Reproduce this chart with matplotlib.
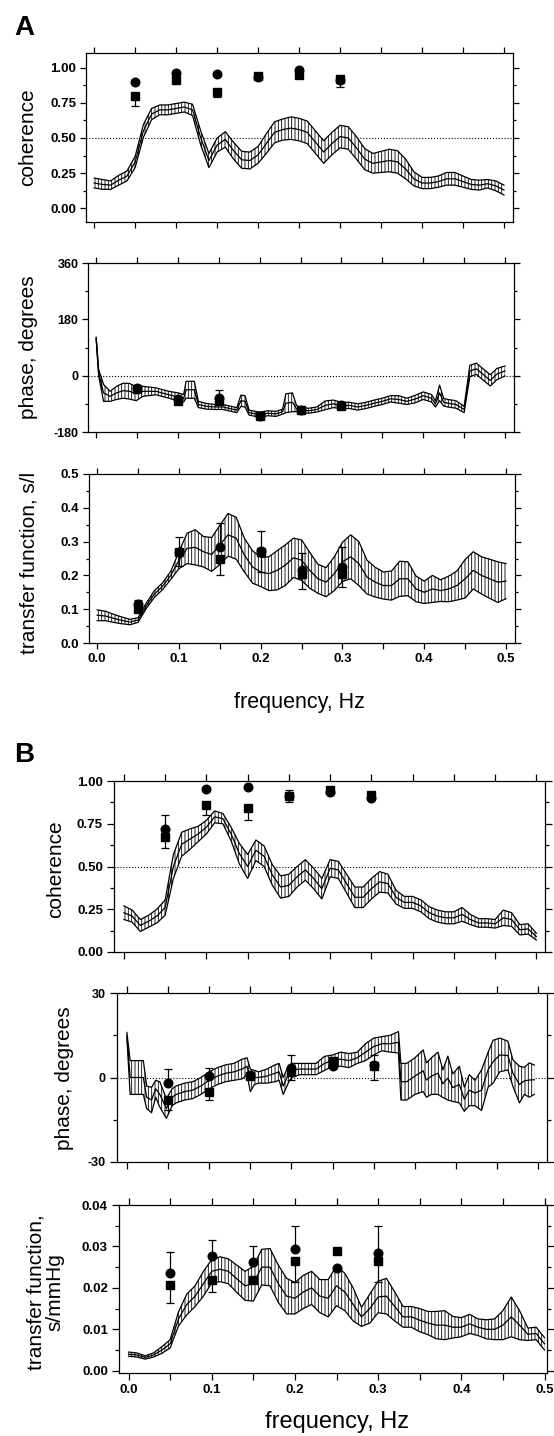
import numpy as np
import matplotlib
matplotlib.use("Agg")
import matplotlib.pyplot as plt
from matplotlib.ticker import MultipleLocator, FormatStrFormatter

plt.rcParams['font.family'] = ['Liberation Sans', 'DejaVu Sans']
plt.rcParams['font.weight'] = 'bold'
plt.rcParams['hatch.linewidth'] = 0.6

W, H = 554, 1436

# frequency grid of the smooth spectra (Hz)
freq = np.arange(51) / 100.0
# frequencies of the sinusoidal-forcing points
mark_f = [0.05, 0.10, 0.15, 0.20, 0.25, 0.30]

# ---- A: coherence ----
coh_a = [0.18, 0.17, 0.165, 0.20, 0.23, 0.33, 0.55, 0.67, 0.70, 0.70,
         0.71, 0.72, 0.70, 0.50, 0.34, 0.45, 0.49, 0.41, 0.345, 0.34,
         0.38, 0.46, 0.54, 0.56, 0.57, 0.56, 0.54, 0.47, 0.40, 0.46,
         0.51, 0.50, 0.43, 0.35, 0.32, 0.33, 0.34, 0.33, 0.28, 0.21,
         0.18, 0.18, 0.19, 0.21, 0.21, 0.19, 0.17, 0.165, 0.175, 0.16, 0.13]
coh_a_se = [0.035, 0.035, 0.03, 0.035, 0.035, 0.04, 0.045, 0.04, 0.035, 0.035,
            0.035, 0.035, 0.04, 0.05, 0.05, 0.05, 0.055, 0.06, 0.06, 0.06,
            0.06, 0.07, 0.075, 0.075, 0.08, 0.08, 0.08, 0.08, 0.08, 0.08,
            0.08, 0.08, 0.08, 0.075, 0.07, 0.075, 0.08, 0.08, 0.07, 0.05,
            0.04, 0.04, 0.04, 0.045, 0.045, 0.04, 0.035, 0.035, 0.03, 0.035, 0.035]
coh_a_circ = [0.90, 0.965, 0.953, 0.93, 0.98, 0.91]
coh_a_circ_up = [0, 0, 0, 0, 0, 0]
coh_a_sq = [0.80, 0.915, 0.83, 0.94, 0.95, 0.92]
coh_a_sq_dn = [0.07, 0, 0.04, 0, 0, 0.06]

# ---- A: phase ----
ph_a_f = [0.000, 0.003, 0.009, 0.017, 0.025, 0.033, 0.041, 0.049, 0.057, 0.073,
          0.089, 0.100, 0.107, 0.110, 0.120, 0.125, 0.135, 0.145, 0.155, 0.165,
          0.172, 0.177, 0.182, 0.187, 0.200, 0.210, 0.220, 0.228, 0.232, 0.240,
          0.245, 0.250, 0.260, 0.270, 0.280, 0.290, 0.300, 0.310, 0.320, 0.330,
          0.340, 0.350, 0.360, 0.370, 0.380, 0.390, 0.400, 0.410, 0.415, 0.420,
          0.425, 0.430, 0.440, 0.450, 0.457, 0.465, 0.475, 0.482, 0.490, 0.500]
ph_a = [120, 10, -55, -66, -55, -48, -50, -58, -50, -50,
        -61, -68, -72, -45, -45, -92, -98, -100, -100, -106,
        -110, -80, -82, -118, -125, -120, -122, -115, -88, -85,
        -105, -110, -112, -108, -95, -90, -95, -95, -100, -95,
        -88, -82, -74, -76, -82, -75, -64, -72, -90, -55,
        -85, -88, -92, -108, 15, 22, 0, -15, 5, 15]
ph_a_se = [3, 10, 27, 16, 21, 24, 25, 22, 16, 11,
           11, 13, 12, 27, 27, 10, 9, 8, 8, 8,
           8, 18, 18, 8, 8, 8, 8, 8, 30, 30,
           10, 8, 8, 8, 14, 12, 10, 10, 10, 10,
           10, 10, 10, 12, 10, 12, 12, 12, 10, 25,
           12, 12, 12, 10, 18, 18, 18, 18, 18, 16]
ph_a_circ = [-38, -75, -72, -128, -110, -95]
ph_a_circ_up = [0, 0, 25, 0, 0, 0]
ph_a_sq = [-42, -80, -82, -130, -110, -97]
ph_a_sq_dn = [0, 0, 0, 0, 0, 0]

# ---- A: transfer function (s/l) ----
tf_a = [0.082, 0.080, 0.073, 0.067, 0.062, 0.068, 0.110, 0.145, 0.168, 0.200,
        0.245, 0.280, 0.283, 0.270, 0.262, 0.290, 0.320, 0.310, 0.260, 0.225,
        0.210, 0.205, 0.215, 0.230, 0.252, 0.245, 0.215, 0.190, 0.180, 0.205,
        0.240, 0.255, 0.235, 0.195, 0.180, 0.170, 0.170, 0.190, 0.190, 0.160,
        0.150, 0.160, 0.155, 0.160, 0.170, 0.190, 0.215, 0.200, 0.190, 0.180, 0.183]
tf_a_se = [0.016, 0.014, 0.012, 0.010, 0.008, 0.007, 0.008, 0.010, 0.010, 0.012,
           0.025, 0.045, 0.052, 0.045, 0.050, 0.058, 0.063, 0.062, 0.050, 0.048,
           0.043, 0.050, 0.058, 0.060, 0.058, 0.060, 0.053, 0.043, 0.043, 0.050,
           0.058, 0.065, 0.065, 0.050, 0.044, 0.040, 0.043, 0.052, 0.050, 0.038,
           0.033, 0.040, 0.032, 0.038, 0.043, 0.057, 0.055, 0.055, 0.058, 0.060, 0.052]
tf_a_circ = [0.115, 0.27, 0.285, 0.272, 0.215, 0.225]
tf_a_circ_up = [0.012, 0.045, 0.07, 0.058, 0.05, 0.06]
tf_a_sq = [0.10, 0.268, 0.25, 0.27, 0.205, 0.205]
tf_a_sq_dn = [0, 0.04, 0.05, 0.06, 0.045, 0.04]

# ---- B: coherence ----
coh_b = [0.23, 0.21, 0.155, 0.18, 0.21, 0.26, 0.50, 0.63, 0.66, 0.69,
         0.73, 0.79, 0.78, 0.69, 0.575, 0.50, 0.595, 0.56, 0.45, 0.38,
         0.39, 0.44, 0.48, 0.43, 0.37, 0.49, 0.48, 0.40, 0.32, 0.32,
         0.37, 0.41, 0.40, 0.32, 0.29, 0.29, 0.27, 0.23, 0.21, 0.20,
         0.20, 0.22, 0.19, 0.17, 0.17, 0.165, 0.20, 0.19, 0.13, 0.135, 0.09]
coh_b_se = [0.04, 0.035, 0.035, 0.035, 0.04, 0.045, 0.07, 0.07, 0.06, 0.045,
            0.04, 0.035, 0.03, 0.04, 0.06, 0.07, 0.06, 0.06, 0.06, 0.065,
            0.065, 0.06, 0.06, 0.06, 0.06, 0.05, 0.05, 0.055, 0.06, 0.06,
            0.06, 0.06, 0.055, 0.04, 0.035, 0.035, 0.035, 0.035, 0.035, 0.035,
            0.035, 0.04, 0.03, 0.025, 0.025, 0.025, 0.045, 0.04, 0.03, 0.03, 0.02]
coh_b_circ = [0.72, 0.955, 0.965, 0.91, 0.935, 0.90]
coh_b_circ_up = [0.08, 0, 0, 0.04, 0, 0]
coh_b_sq = [0.67, 0.86, 0.845, 0.915, 0.95, 0.92]
coh_b_sq_dn = [0.06, 0.06, 0.075, 0.04, 0, 0]

# ---- B: phase ----
ph_b_f = [0.000, 0.004, 0.020, 0.024, 0.030, 0.035, 0.040, 0.048, 0.055, 0.060,
          0.070, 0.080, 0.090, 0.100, 0.110, 0.120, 0.130, 0.140, 0.146, 0.150,
          0.155, 0.160, 0.170, 0.180, 0.185, 0.190, 0.196, 0.200, 0.210, 0.220,
          0.230, 0.240, 0.250, 0.260, 0.270, 0.280, 0.290, 0.300, 0.310, 0.320,
          0.330, 0.333, 0.340, 0.350, 0.360, 0.364, 0.370, 0.378, 0.384, 0.390,
          0.396, 0.404, 0.410, 0.416, 0.423, 0.431, 0.439, 0.445, 0.453, 0.463,
          0.469, 0.477, 0.483, 0.489, 0.495]
ph_b = [15, 0, 0, -7, -8, -4, -6, -11, -7, -6,
        -5, -4.5, -3, -1, 0.5, 1.5, 2, 3, 4, -1,
        0, 0, 0.5, 1.5, 2, -3, 1, 2.5, 3, 3,
        3, 5, 6, 6.5, 6, 7, 9, 11, 12, 12,
        12.5, -1.5, -1.5, 0.5, 2.4, -0.9, 0.5, 1.5, -2.2, -0.2,
        -3.6, -2.5, -7.7, -4.5, -5.5, -4.5, 2.8, 5.6, 8, 7.8,
        1.6, -2.5, -1.2, -0.9, -0.8]
ph_b_se = [1, 6, 6, 4, 4.5, 3, 4.5, 3.5, 3, 3,
           3, 3, 3, 3, 3, 3, 3, 3.5, 3, 4,
           2.5, 2, 2.5, 3, 3, 3, 3, 2.5, 2, 2,
           2, 2.5, 2, 2.5, 2.5, 2, 3, 3, 2.5, 3,
           3.8, 6.5, 6.5, 6.5, 7.4, 6.1, 6.5, 7.5, 4.9, 7.8,
           4.9, 6.5, 4.3, 5.5, 4.5, 7.2, 6.2, 7.6, 6, 5.1,
           4.7, 6.5, 4.8, 6.1, 5.2]
ph_b_circ = [-2, 0.5, 1, 3.5, 4, 4.5]
ph_b_circ_up = [5, 3, 0, 4.5, 0, 3.5]
ph_b_sq = [-8, -5, 0.5, 2, 6, 4]
ph_b_sq_dn = [3.5, 3, 0, 3, 0, 5]

# ---- B: transfer function (s/mmHg) ----
tf_b = [0.0040, 0.0038, 0.0032, 0.0038, 0.0050, 0.0065, 0.0125, 0.0160, 0.0180, 0.0210,
        0.0240, 0.0245, 0.0240, 0.0222, 0.0205, 0.0210, 0.0250, 0.0250, 0.0210, 0.0180,
        0.0175, 0.0190, 0.0200, 0.0180, 0.0175, 0.0205, 0.0190, 0.0160, 0.0130, 0.0150,
        0.0178, 0.0180, 0.0155, 0.0130, 0.0130, 0.0122, 0.0115, 0.0110, 0.0110, 0.0105,
        0.0105, 0.0113, 0.0105, 0.0100, 0.0100, 0.0110, 0.0130, 0.0110, 0.0088, 0.0090, 0.0065]
tf_b_se = [0.0005, 0.0005, 0.0004, 0.0005, 0.0008, 0.0010, 0.0017, 0.0025, 0.0025, 0.0030,
           0.0028, 0.0030, 0.0030, 0.0033, 0.0035, 0.0042, 0.0043, 0.0045, 0.0045, 0.0043,
           0.0038, 0.0040, 0.0040, 0.0040, 0.0045, 0.0048, 0.0045, 0.0040, 0.0023, 0.0035,
           0.0038, 0.0043, 0.0035, 0.0025, 0.0025, 0.0028, 0.0028, 0.0033, 0.0035, 0.0026,
           0.0023, 0.0023, 0.0020, 0.0023, 0.0025, 0.0035, 0.0048, 0.0035, 0.0015, 0.0015, 0.0015]
tf_b_circ = [0.0235, 0.0277, 0.0262, 0.0295, 0.0247, 0.0285]
tf_b_circ_up = [0.0052, 0.0038, 0.0038, 0.0055, 0, 0.0065]
tf_b_sq = [0.0208, 0.022, 0.022, 0.0265, 0.029, 0.0265]
tf_b_sq_dn = [0.0045, 0.003, 0, 0.005, 0, 0.005]


fig = plt.figure(figsize=(W / 100, H / 100), dpi=100)


def make_ax(l, t, r, b):
    # pixel box -> figure fraction
    return fig.add_axes([l / W, 1 - b / H, (r - l) / W, (b - t) / H])


def band(ax, f, c, se):
    f = np.asarray(f)
    c = np.asarray(c, dtype=float)
    se = np.asarray(se, dtype=float)
    ax.fill_between(f, c - se, c + se, facecolor='white', edgecolor='black',
                    hatch='|||||', linewidth=0, zorder=2)
    for y in (c + se, c - se, c):
        ax.plot(f, y, color='black', lw=0.9, zorder=3)


def points(ax, circ, circ_up, sq, sq_dn):
    z = np.zeros(len(mark_f))
    ax.errorbar(mark_f, circ, yerr=[z, circ_up], fmt='none', ecolor='black',
                elinewidth=0.9, capsize=3.2, capthick=0.9, zorder=4)
    ax.errorbar(mark_f, sq, yerr=[sq_dn, z], fmt='none', ecolor='black',
                elinewidth=0.9, capsize=3.2, capthick=0.9, zorder=4)
    ax.plot(mark_f, sq, 's', color='black', ms=5.6, zorder=5)
    ax.plot(mark_f, circ, 'o', color='black', ms=6.2, zorder=5)


def style(ax, xlim, ylim, ymaj, ymin, fmt, xlabels=False, tsize=9.5, tlen=4):
    ax.set_xlim(*xlim)
    ax.set_ylim(*ylim)
    ax.xaxis.set_major_locator(MultipleLocator(0.1))
    ax.xaxis.set_minor_locator(MultipleLocator(0.05))
    ax.xaxis.set_major_formatter(FormatStrFormatter('%.1f'))
    ax.yaxis.set_major_locator(MultipleLocator(ymaj))
    ax.yaxis.set_minor_locator(MultipleLocator(ymin))
    ax.yaxis.set_major_formatter(FormatStrFormatter(fmt))
    ax.tick_params(which='both', direction='out', top=True, right=True,
                   width=0.9, labelsize=tsize, pad=3)
    ax.tick_params(which='major', length=tlen)
    ax.tick_params(axis='y', which='minor', length=tlen * 0.6)
    ax.tick_params(axis='x', which='minor', length=tlen)
    ax.tick_params(labelbottom=xlabels)
    for s in ax.spines.values():
        s.set_linewidth(0.9)


def ylab(x, y, text, size=15):
    fig.text(x / W, 1 - y / H, text, rotation=90, ha='center', va='center',
             fontsize=size, fontweight='normal', multialignment='center',
             linespacing=1.0)


# ---------- panel A ----------
ax = make_ax(86, 53, 513, 222)
ax.axhline(0.5, ls=':', lw=0.8, color='black', zorder=1)
band(ax, freq, coh_a, coh_a_se)
points(ax, coh_a_circ, coh_a_circ_up, coh_a_sq, coh_a_sq_dn)
style(ax, (-0.01, 0.511), (-0.097, 1.104), 0.25, 0.125, '%.2f')
ylab(27.6, 137.5, 'coherence')

ax = make_ax(88, 263, 514, 432)
ax.axhline(0, ls=':', lw=0.8, color='black', zorder=1)
band(ax, ph_a_f, ph_a, ph_a_se)
points(ax, ph_a_circ, ph_a_circ_up, ph_a_sq, ph_a_sq_dn)
style(ax, (-0.01, 0.511), (-180, 360), 180, 90, '%d', tsize=9)
ylab(28.5, 347.5, 'phase, degrees')

ax = make_ax(89, 474, 515, 643)
band(ax, freq, tf_a, tf_a_se)
points(ax, tf_a_circ, tf_a_circ_up, tf_a_sq, tf_a_sq_dn)
style(ax, (-0.01, 0.511), (0, 0.5), 0.1, 0.05, '%.1f', xlabels=True)
ylab(29.4, 563, 'transfer function, s/l')
fig.text(299.5 / W, 1 - 703 / H, 'frequency, Hz', ha='center', va='center',
         fontsize=15.5, fontweight='normal')

# ---------- panel B ----------
ax = make_ax(114, 781, 545, 952)
ax.axhline(0.5, ls=':', lw=0.8, color='black', zorder=1)
band(ax, freq, coh_b, coh_b_se)
points(ax, coh_b_circ, coh_b_circ_up, coh_b_sq, coh_b_sq_dn)
style(ax, (-0.012, 0.5105), (0, 1.0), 0.25, 0.125, '%.2f', tlen=5)
ylab(56, 869, 'coherence')

ax = make_ax(117, 993, 547, 1162)
ax.axhline(0, ls=':', lw=0.8, color='black', zorder=1)
band(ax, ph_b_f, ph_b, ph_b_se)
points(ax, ph_b_circ, ph_b_circ_up, ph_b_sq, ph_b_sq_dn)
style(ax, (-0.012, 0.5105), (-30, 30), 30, 15, '%d', tsize=9, tlen=5)
ylab(65, 1078, 'phase, degrees')

ax = make_ax(119, 1205, 547, 1373)
band(ax, freq, tf_b, tf_b_se)
points(ax, tf_b_circ, tf_b_circ_up, tf_b_sq, tf_b_sq_dn)
style(ax, (-0.0115, 0.503), (-0.00055, 0.04), 0.01, 0.005, '%.2f',
      xlabels=True, tlen=5)
ylab(45, 1292, 'transfer function,\ns/mmHg')
fig.text(337 / W, 1 - 1422 / H, 'frequency, Hz', ha='center', va='center',
         fontsize=17, fontweight='normal')

fig.text(14 / W, 1 - 35 / H, 'A', fontsize=20, fontweight='bold', va='baseline')
fig.text(14 / W, 1 - 762 / H, 'B', fontsize=20, fontweight='bold', va='baseline')

fig.savefig('out.png', dpi=100)
